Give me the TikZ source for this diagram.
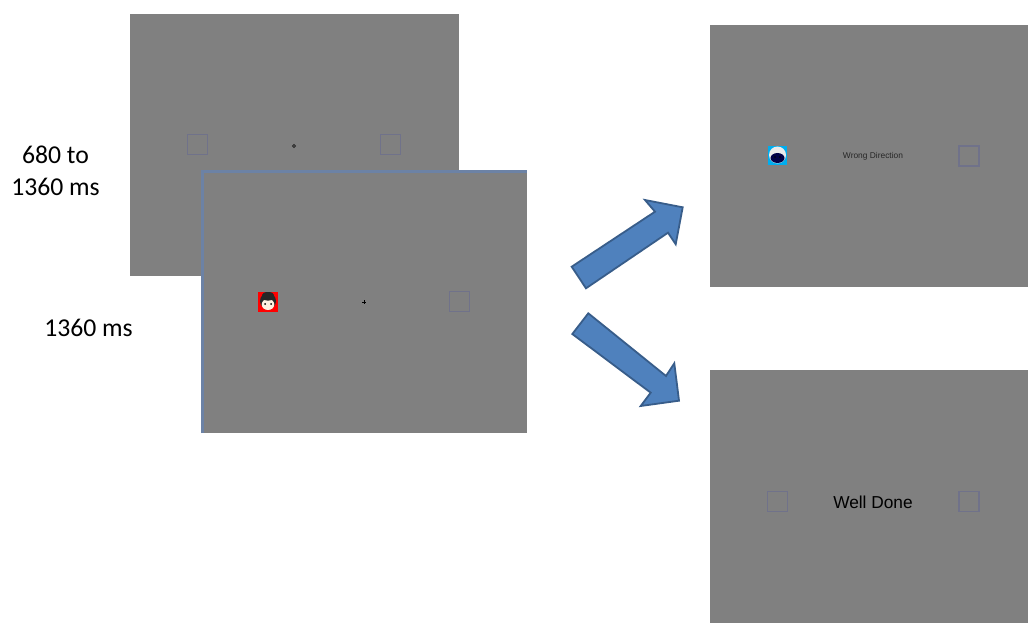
\documentclass[tikz,border=0pt]{standalone}
\usepackage{fontspec}
\setmainfont{Carlito}
\newfontfamily\arialf{Liberation Sans}
\definecolor{scr}{RGB}{128,128,128}
\definecolor{sqc}{RGB}{112,114,138}
\definecolor{framec}{RGB}{108,130,165}
\definecolor{arrowfill}{RGB}{79,129,189}
\definecolor{arrowline}{RGB}{56,93,138}
\tikzset{
  x=1pt,y=-1pt,
  screen/.style={fill=scr,draw=none,inner sep=0pt,outer sep=0pt,anchor=north west},
  resp/.style={draw=sqc,line width=1.7pt,fill=none,minimum width=20pt,minimum height=20pt,inner sep=0pt},
  blockarrow/.style={fill=arrowfill,draw=arrowline,line width=1.8pt,line join=miter},
  lbl/.style={font=\fontsize{25.7}{32}\selectfont,text=black,align=center,inner sep=0pt},
  fix/.style={inner sep=0pt,text=black},
}
\begin{document}
\begin{tikzpicture}
\useasboundingbox (0,0) rectangle (1028,623);
\fill[white] (0,0) rectangle (1028,623);
% back screen
\node[screen,minimum width=329pt,minimum height=262pt] (s1) at (130,14) {};
\node[resp] (s1a) at (197.5,144.5) {};
\node[resp] (s1b) at (390.5,144.5) {};
\draw[black!85,line width=0.9pt] (294,146) circle (1.5pt);
% front screen
\node[screen,minimum width=326pt,minimum height=263pt] (s2) at (201,170) {};
\draw[framec,line width=3.2pt] (202.6,433) -- (202.6,171.6) -- (527,171.6);
\node[resp] (s2b) at (459.5,301.5) {};
\fill[red] (258,292) rectangle (278,312);
\fill[black!85] (268,301) circle (8pt);
\fill[black!85] (268,295) ellipse (6pt and 3pt);
\fill[orange!12!white] (268,304.5) ellipse (6.3pt and 5.5pt);
\fill[black!85] (268,298.5) ellipse (5pt and 2.2pt);
\fill[black] (265,304) circle (1pt);
\fill[black] (271,304) circle (1pt);
\draw[black,line width=0.7pt] (362,302)--(366,302) (364,300)--(364,304);
% right top screen
\node[screen,minimum width=318pt,minimum height=262pt] (s3) at (710,25) {};
\fill[cyan] (768,146) rectangle (787,165);
\fill[white!92!black] (777.5,155) circle (8.5pt);
\fill[black!20!blue!35!black] (777.5,158) ellipse (7pt and 5pt);
\fill[black] (775,157) circle (.9pt);
\fill[black] (780,157) circle (.9pt);
\node[resp] (s3b) at (969,156) {};
\node[fix,font=\arialf\fontsize{8.4}{10}\selectfont,text=black!85] (t1) at (873,156) {Wrong Direction};
% right bottom screen
\node[screen,minimum width=318pt,minimum height=253pt] (s4) at (710,370) {};
\node[resp] (s4a) at (777.5,501.5) {};
\node[resp] (s4b) at (969,501.5) {};
\node[fix,font=\arialf\fontsize{17.3}{20}\selectfont] (t2) at (873,502) {Well Done};
% block arrows
\draw[blockarrow] (571.7,266.7) -- (586,288.3) -- (668,232.7) -- (675.7,244.3) -- (682.7,207.3) -- (645,200) -- (655,211.7) -- cycle;
\draw[blockarrow] (588.3,313.3) -- (572.3,334) -- (650.7,392.7) -- (640.7,406) -- (679,400.7) -- (674.3,363.3) -- (666,376) -- cycle;
% labels
\node[lbl] (l1) at (55.5,171) {680 to\\1360 ms};
\node[lbl] (l2) at (88.5,328) {1360 ms};
\end{tikzpicture}
\end{document}
